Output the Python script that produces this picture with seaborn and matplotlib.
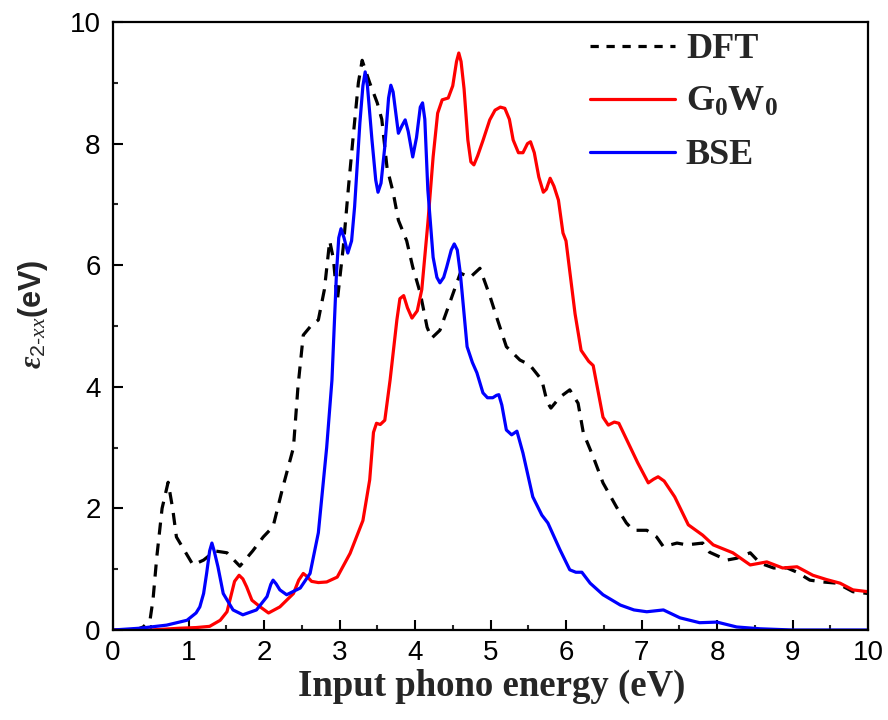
import matplotlib
matplotlib.use("Agg")
import matplotlib.pyplot as plt
import seaborn as sns
from matplotlib.ticker import MultipleLocator

# ---------------- data ----------------
dft_x = [0.0, 0.3, 0.4, 0.49, 0.53, 0.58, 0.65, 0.73, 0.79, 0.84, 0.95, 1.06, 1.2, 1.35, 1.51,
         1.68, 1.85, 1.99, 2.12, 2.25, 2.39, 2.45, 2.52, 2.62, 2.72, 2.8, 2.87, 2.92, 2.97,
         3.05, 3.12, 3.18, 3.25, 3.3, 3.4, 3.5, 3.56, 3.63, 3.71, 3.78, 3.89, 3.97, 4.07,
         4.16, 4.22, 4.33, 4.46, 4.6, 4.73, 4.86, 4.99, 5.08, 5.21, 5.39, 5.52, 5.68, 5.75,
         5.8, 5.92, 6.05, 6.16, 6.23, 6.36, 6.49, 6.67, 6.8, 6.89, 7.07, 7.2, 7.29, 7.47,
         7.6, 7.81, 7.9, 8.13, 8.26, 8.44, 8.57, 8.75, 8.93, 9.06, 9.23, 9.4, 9.59, 9.8, 10.0]
dft_y = [0.0, 0.0, 0.05, 0.16, 0.5, 1.2, 2.0, 2.43, 2.0, 1.53, 1.3, 1.07, 1.15, 1.3, 1.27,
         1.05, 1.3, 1.53, 1.7, 2.35, 3.0, 4.0, 4.85, 5.0, 5.1, 5.6, 6.4, 6.1, 5.4,
         6.3, 7.3, 8.1, 9.0, 9.37, 9.0, 8.67, 8.4, 7.6, 7.2, 6.74, 6.4, 5.97, 5.54,
         4.98, 4.8, 4.93, 5.38, 5.87, 5.8, 5.95, 5.5, 5.15, 4.66, 4.44, 4.36, 4.11, 3.75,
         3.65, 3.83, 3.95, 3.73, 3.24, 2.85, 2.42, 2.02, 1.76, 1.64, 1.64, 1.53, 1.37, 1.43,
         1.4, 1.43, 1.28, 1.15, 1.18, 1.27, 1.1, 1.02, 1.02, 0.95, 0.82, 0.79, 0.77, 0.63, 0.6]

gw_x = [0.0, 0.5, 0.89, 1.1, 1.28, 1.42, 1.51, 1.56, 1.61, 1.67, 1.72, 1.77, 1.84, 1.95, 2.06,
        2.21, 2.39, 2.46, 2.52, 2.57, 2.63, 2.72, 2.83, 2.97, 3.14, 3.31, 3.4, 3.45, 3.49,
        3.54, 3.6, 3.67, 3.76, 3.8, 3.85, 3.9, 3.96, 4.03, 4.09, 4.17, 4.24, 4.3, 4.36,
        4.44, 4.5, 4.55, 4.58, 4.61, 4.65, 4.7, 4.74, 4.78, 4.83, 4.9, 4.99, 5.06, 5.13,
        5.19, 5.25, 5.3, 5.37, 5.43, 5.49, 5.53, 5.58, 5.64, 5.7, 5.74, 5.79, 5.84, 5.9,
        5.96, 6.0, 6.06, 6.12, 6.2, 6.3, 6.36, 6.49, 6.56, 6.64, 6.7, 6.85, 6.95, 7.09,
        7.16, 7.22, 7.3, 7.44, 7.62, 7.81, 7.95, 8.21, 8.44, 8.66, 8.87, 9.06, 9.27, 9.45,
        9.63, 9.8, 10.0]
gw_y = [0.0, 0.0, 0.03, 0.04, 0.06, 0.16, 0.3, 0.55, 0.8, 0.9, 0.84, 0.71, 0.49, 0.38, 0.28,
        0.38, 0.6, 0.82, 0.93, 0.88, 0.8, 0.78, 0.79, 0.87, 1.26, 1.8, 2.47, 3.25, 3.4,
        3.38, 3.45, 4.11, 5.1, 5.45, 5.5, 5.3, 5.13, 5.25, 5.6, 6.69, 7.78, 8.5, 8.72,
        8.75, 8.95, 9.35, 9.49, 9.35, 8.9, 8.06, 7.7, 7.65, 7.8, 8.05, 8.39, 8.55, 8.6,
        8.58, 8.4, 8.06, 7.85, 7.85, 8.0, 8.03, 7.85, 7.45, 7.2, 7.25, 7.43, 7.3, 7.07,
        6.53, 6.4, 5.8, 5.2, 4.6, 4.42, 4.35, 3.5, 3.37, 3.42, 3.4, 3.01, 2.75, 2.42,
        2.48, 2.52, 2.45, 2.19, 1.73, 1.56, 1.4, 1.27, 1.07, 1.12, 1.02, 1.04, 0.9, 0.83,
        0.77, 0.66, 0.63]

bse_x = [0.0, 0.36, 0.71, 0.98, 1.1, 1.15, 1.2, 1.24, 1.28, 1.31, 1.34, 1.39, 1.46, 1.59, 1.72,
         1.9, 2.04, 2.09, 2.12, 2.16, 2.21, 2.3, 2.48, 2.61, 2.72, 2.83, 2.9, 2.96, 2.99,
         3.02, 3.06, 3.11, 3.16, 3.2, 3.27, 3.31, 3.34, 3.37, 3.43, 3.48, 3.51, 3.55, 3.6,
         3.65, 3.68, 3.71, 3.78, 3.83, 3.87, 3.91, 3.97, 4.02, 4.07, 4.1, 4.13, 4.17, 4.24,
         4.29, 4.33, 4.38, 4.42, 4.48, 4.52, 4.56, 4.6, 4.69, 4.76, 4.82, 4.9, 4.96, 5.03,
         5.08, 5.11, 5.15, 5.21, 5.28, 5.35, 5.43, 5.56, 5.68, 5.76, 5.92, 6.05, 6.13, 6.21,
         6.32, 6.49, 6.72, 6.9, 7.07, 7.29, 7.51, 7.77, 8.0, 8.26, 8.57, 9.0, 10.0]
bse_y = [0.0, 0.03, 0.08, 0.16, 0.28, 0.38, 0.6, 0.93, 1.3, 1.43, 1.3, 1.04, 0.6, 0.33, 0.25,
         0.33, 0.55, 0.75, 0.82, 0.76, 0.66, 0.58, 0.69, 0.93, 1.6, 3.0, 4.11, 5.87, 6.45,
         6.6, 6.45, 6.2, 6.4, 6.96, 8.34, 8.95, 9.18, 8.95, 8.06, 7.4, 7.2, 7.35, 7.95,
         8.75, 8.96, 8.85, 8.17, 8.3, 8.39, 8.2, 7.78, 8.1, 8.6, 8.67, 8.4, 7.24, 6.13,
         5.8, 5.71, 5.8, 5.97, 6.25, 6.35, 6.25, 5.87, 4.66, 4.4, 4.23, 3.9, 3.82, 3.82,
         3.86, 3.87, 3.7, 3.29, 3.21, 3.27, 2.91, 2.19, 1.89, 1.76, 1.32, 0.99, 0.95, 0.95,
         0.77, 0.58, 0.41, 0.33, 0.3, 0.33, 0.2, 0.12, 0.13, 0.05, 0.02, 0.0, 0.0]

labels = ["DFT", r"$\mathbf{G_0W_0}$", "BSE"]
x_ticks = [0, 1, 2, 3, 4, 5, 6, 7, 8, 9, 10]
y_ticks = [0, 2, 4, 6, 8, 10]

# ---------------- style ----------------
sns.set_style("ticks")
plt.rcParams["font.family"] = ["Liberation Sans", "DejaVu Sans"]
plt.rcParams["mathtext.fontset"] = "custom"
plt.rcParams["mathtext.rm"] = "Liberation Sans"
plt.rcParams["mathtext.it"] = "Liberation Serif:italic"
plt.rcParams["mathtext.bf"] = "Liberation Serif:bold"
plt.rcParams["mathtext.bfit"] = "Liberation Serif:bold:italic"

fig = plt.figure(figsize=(8.88, 7.2), dpi=100)
ax = fig.add_axes([113 / 888, 1 - 630 / 720, 755 / 888, 608 / 720])

lw = 2.3
sns.lineplot(x=dft_x, y=dft_y, ax=ax, color="black", linewidth=lw, label=labels[0], sort=False)
ax.lines[-1].set_dashes([3.8, 2.8])
sns.lineplot(x=gw_x, y=gw_y, ax=ax, color="#ff0000", linewidth=lw, label=labels[1], sort=False)
sns.lineplot(x=bse_x, y=bse_y, ax=ax, color="#0000ff", linewidth=lw, label=labels[2], sort=False)

ax.set_xlim(0, 10)
ax.set_ylim(0, 10)
ax.set_xticks(x_ticks)
ax.set_yticks(y_ticks)
ax.xaxis.set_minor_locator(MultipleLocator(0.5))
ax.yaxis.set_minor_locator(MultipleLocator(1))
ax.tick_params(axis="both", which="major", direction="in", length=7, width=1.5,
               labelsize=20, colors="black")
ax.tick_params(axis="both", which="minor", direction="in", length=3.6, width=1.5)
ax.tick_params(axis="x", which="major", pad=7)
ax.tick_params(axis="y", which="major", pad=9)
ax.tick_params(top=False, right=False, which="both")
for s in ax.spines.values():
    s.set_visible(True)
    s.set_linewidth(1.6)
    s.set_color("black")

ax.set_xlabel("Input phono energy (eV)", family=["Liberation Serif"], fontweight="bold",
              fontsize=26.5)
ax.xaxis.set_label_coords(0.502, -0.064)
ax.set_ylabel(r"$\mathbfit{\varepsilon}_{2\text{-}xx}$(eV)", fontweight="bold", fontsize=22)
ax.yaxis.set_label_coords(-0.083, 0.52)

leg = ax.legend(loc="upper left", bbox_to_anchor=(0.632, 0.982), frameon=False,
                prop={"family": "Liberation Serif", "weight": "bold", "size": 26},
                handlelength=2.35, handletextpad=0.3, labelspacing=0.55,
                borderpad=0, borderaxespad=0)
leg.get_lines()[0].set_dashes([2.6, 2.4])

fig.savefig("out.png", dpi=100)
